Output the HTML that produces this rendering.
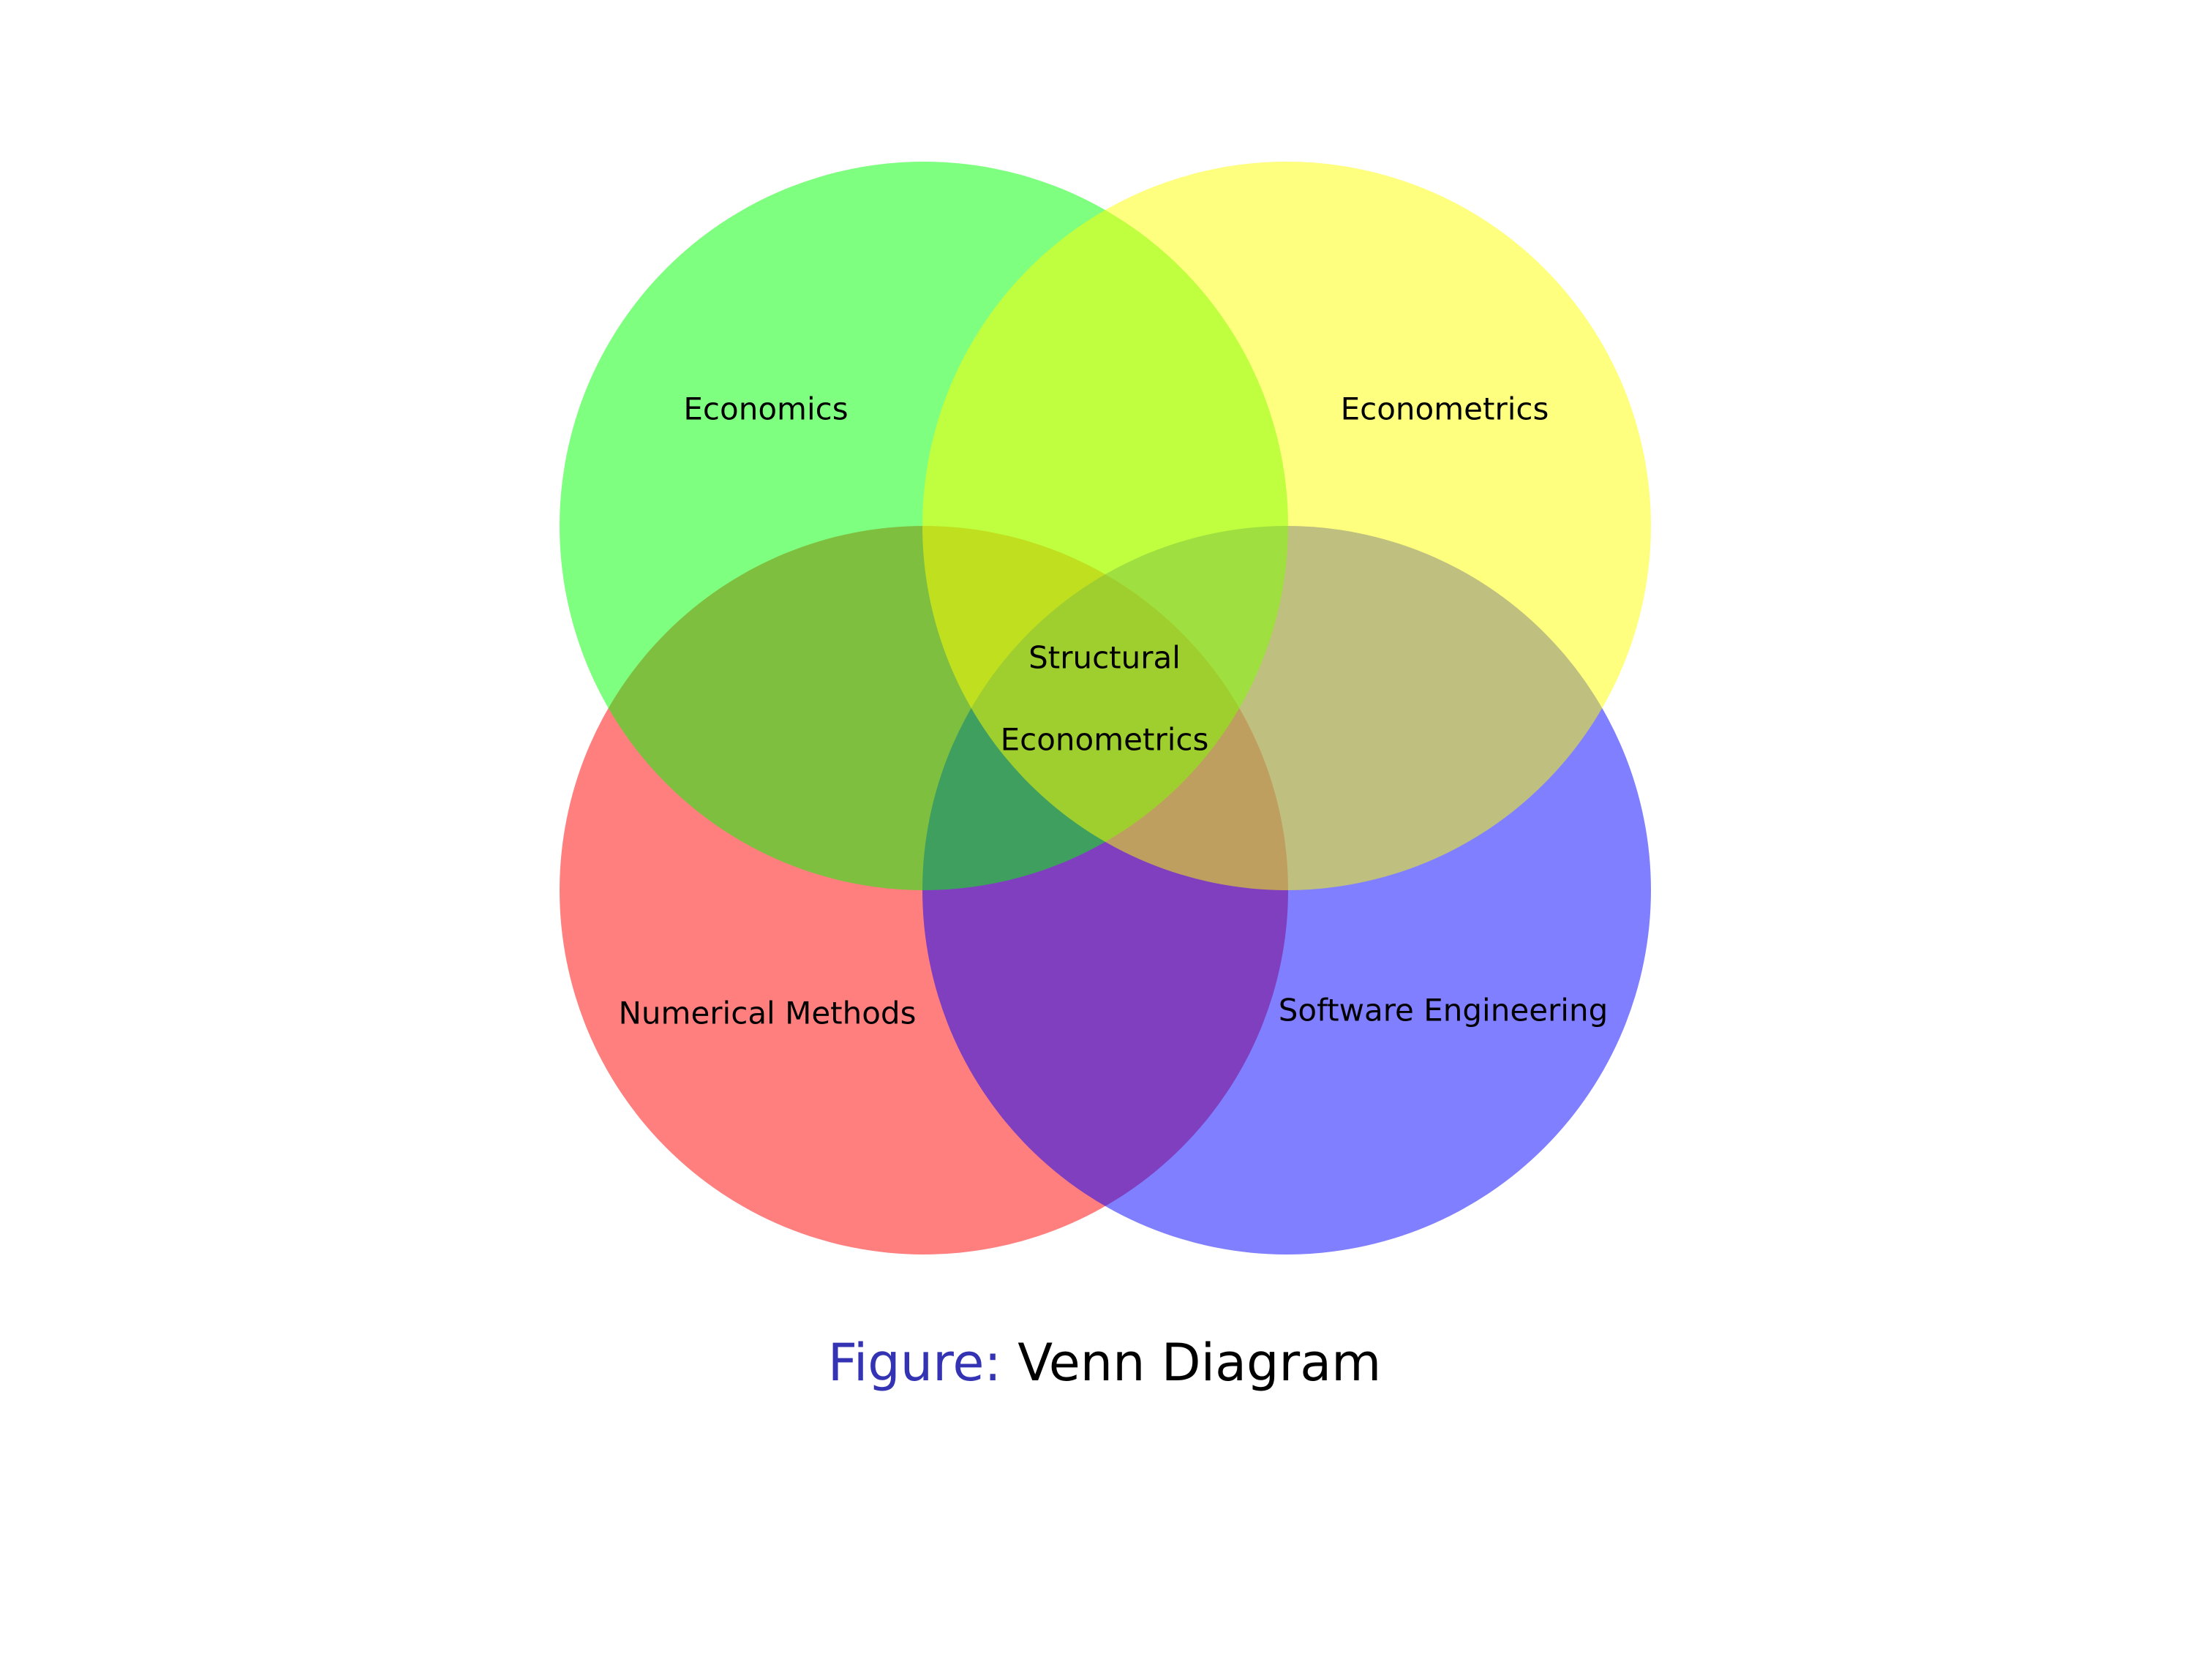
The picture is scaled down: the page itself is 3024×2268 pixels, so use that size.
<!DOCTYPE html>
<html><head><meta charset="utf-8"><style>
html,body{margin:0;padding:0;background:#fff;}
svg{display:block;}
text{font-family:"DejaVu Sans","Liberation Sans",sans-serif;}
</style></head><body>
<svg width="3024" height="2268" viewBox="0 0 3024 2268" xmlns="http://www.w3.org/2000/svg">
<rect width="3024" height="2268" fill="#fff"/>
<circle cx="1263" cy="1217" r="498" fill="#ff0000" fill-opacity="0.5"/>
<circle cx="1759" cy="1217" r="498" fill="#0000ff" fill-opacity="0.5"/>
<circle cx="1263" cy="719" r="498" fill="#00ff00" fill-opacity="0.5"/>
<circle cx="1759" cy="719" r="498" fill="#ffff00" fill-opacity="0.5"/>
<g font-size="42" text-anchor="middle" dominant-baseline="central" fill="#000">
<text x="1047" y="559">Economics</text>
<text x="1975" y="559">Econometrics</text>
<text x="1510" y="899">Structural</text>
<text x="1510" y="1011">Econometrics</text>
<text x="1049" y="1385">Numerical Methods</text>
<text x="1973" y="1381">Software Engineering</text>
</g>
<text x="1510" y="1863" font-size="70" text-anchor="middle" dominant-baseline="central"><tspan fill="#3333b3">Figure:</tspan><tspan fill="#000"> Venn Diagram</tspan></text>
</svg>
</body></html>
